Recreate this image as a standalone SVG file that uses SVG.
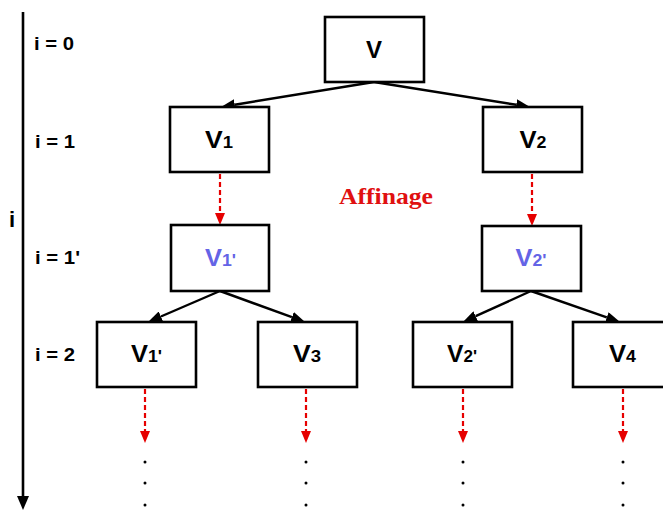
<svg xmlns="http://www.w3.org/2000/svg" width="663" height="510" viewBox="0 0 663 510">
<style>
.box{fill:#fff;stroke:#000;stroke-width:2.6}
.lbl{font-family:"Liberation Sans",Arial,sans-serif;font-weight:bold;fill:#000}
.nl{font-family:"Liberation Sans",Arial,sans-serif;font-weight:bold;font-size:23px;text-anchor:middle;fill:#000}
.blue{fill:#6464e6}
.sub{font-size:16px}
.edge{stroke:#000;stroke-width:2.4;fill:none}
.ref{stroke:#e60000;stroke-width:2.2;stroke-dasharray:5,3;fill:none}
.dot{fill:#000}
</style>
<defs>
<marker id="ah" markerUnits="userSpaceOnUse" viewBox="0 0 14 11" refX="0" refY="5.5" markerWidth="14" markerHeight="11" orient="auto"><path d="M0,0 L14,5.5 L0,11 Z" fill="#000"/></marker>
<marker id="rh" markerUnits="userSpaceOnUse" viewBox="0 0 12 10" refX="0" refY="5" markerWidth="12" markerHeight="10" orient="auto"><path d="M0,0 L12,5 L0,10 Z" fill="#e60000"/></marker>
<marker id="ax" markerUnits="userSpaceOnUse" viewBox="0 0 14 12" refX="0" refY="6" markerWidth="14" markerHeight="12" orient="auto"><path d="M0,0 L14,6 L0,12 Z" fill="#000"/></marker>
</defs>
<g id="axis">
<line x1="23" y1="12" x2="23" y2="496" stroke="#000" stroke-width="2.6" marker-end="url(#ax)"/>
<text class="lbl" x="9" y="227" font-size="22">i</text>
<text class="lbl" x="34" y="50" font-size="18" textLength="40" lengthAdjust="spacingAndGlyphs">i = 0</text>
<text class="lbl" x="35" y="148" font-size="18" textLength="40" lengthAdjust="spacingAndGlyphs">i = 1</text>
<text class="lbl" x="35" y="264" font-size="18" textLength="45" lengthAdjust="spacingAndGlyphs">i = 1'</text>
<text class="lbl" x="35" y="361" font-size="18" textLength="40" lengthAdjust="spacingAndGlyphs">i = 2</text>
</g>
<g id="connectors">
<line class="edge" x1="374" y1="82" x2="234.8" y2="104.7" marker-end="url(#ah)"/>
<line class="edge" x1="374" y1="82" x2="516.2" y2="104.8" marker-end="url(#ah)"/>
<line class="edge" x1="220" y1="291" x2="160.9" y2="316.5" marker-end="url(#ah)"/>
<line class="edge" x1="220" y1="291" x2="291.9" y2="317.2" marker-end="url(#ah)"/>
<line class="edge" x1="531" y1="291" x2="475.7" y2="316.2" marker-end="url(#ah)"/>
<line class="edge" x1="531" y1="291" x2="606.8" y2="317.4" marker-end="url(#ah)"/>
<line class="ref" x1="220" y1="174" x2="220" y2="213" marker-end="url(#rh)"/>
<line class="ref" x1="532" y1="174" x2="532" y2="214" marker-end="url(#rh)"/>
<line class="ref" x1="145" y1="389" x2="145" y2="431" marker-end="url(#rh)"/>
<line class="ref" x1="306" y1="389" x2="306" y2="431" marker-end="url(#rh)"/>
<line class="ref" x1="463" y1="389" x2="463" y2="431" marker-end="url(#rh)"/>
<line class="ref" x1="623" y1="389" x2="623" y2="431" marker-end="url(#rh)"/>
</g>
<g id="dots">
<circle class="dot" cx="145" cy="462" r="1.5"/><circle class="dot" cx="145" cy="483" r="1.5"/><circle class="dot" cx="145" cy="505" r="1.5"/>
<circle class="dot" cx="306" cy="462" r="1.5"/><circle class="dot" cx="306" cy="483" r="1.5"/><circle class="dot" cx="306" cy="505" r="1.5"/>
<circle class="dot" cx="463" cy="462" r="1.5"/><circle class="dot" cx="463" cy="483" r="1.5"/><circle class="dot" cx="463" cy="505" r="1.5"/>
<circle class="dot" cx="623" cy="462" r="1.5"/><circle class="dot" cx="623" cy="483" r="1.5"/><circle class="dot" cx="623" cy="505" r="1.5"/>
</g>
<g id="affinage">
<text x="339" y="204" font-family="'Liberation Serif','Times New Roman',serif" font-weight="bold" font-size="24" fill="#e01010" textLength="94" lengthAdjust="spacingAndGlyphs">Affinage</text>
</g>
<g id="node-V"><rect class="box" x="325" y="17" width="99" height="65"/><text class="nl" x="374" y="58" textLength="16" lengthAdjust="spacingAndGlyphs">V</text></g>
<g id="node-V1"><rect class="box" x="170" y="107" width="99" height="65"/><text class="nl" x="219" y="148" textLength="28" lengthAdjust="spacingAndGlyphs">V<tspan class="sub">1</tspan></text></g>
<g id="node-V2"><rect class="box" x="483" y="107" width="99" height="65"/><text class="nl" x="533" y="148" textLength="27" lengthAdjust="spacingAndGlyphs">V<tspan class="sub">2</tspan></text></g>
<g id="node-V1p"><rect class="box" x="171" y="225" width="98" height="66"/><text class="nl blue" x="220.5" y="266" textLength="31" lengthAdjust="spacingAndGlyphs">V<tspan class="sub">1'</tspan></text></g>
<g id="node-V2p"><rect class="box" x="482" y="226" width="99" height="65"/><text class="nl blue" x="531" y="266" textLength="31" lengthAdjust="spacingAndGlyphs">V<tspan class="sub">2'</tspan></text></g>
<g id="node-V1p-2"><rect class="box" x="97" y="322" width="99" height="65"/><text class="nl" x="146.5" y="362" textLength="31" lengthAdjust="spacingAndGlyphs">V<tspan class="sub">1'</tspan></text></g>
<g id="node-V3"><rect class="box" x="258" y="322" width="99" height="65"/><text class="nl" x="307" y="362" textLength="28" lengthAdjust="spacingAndGlyphs">V<tspan class="sub">3</tspan></text></g>
<g id="node-V2p-2"><rect class="box" x="413" y="322" width="99" height="65"/><text class="nl" x="462" y="362" textLength="30" lengthAdjust="spacingAndGlyphs">V<tspan class="sub">2'</tspan></text></g>
<g id="node-V4"><rect class="box" x="573" y="322" width="99" height="65"/><text class="nl" x="622.5" y="362" textLength="27" lengthAdjust="spacingAndGlyphs">V<tspan class="sub">4</tspan></text></g>
</svg>
